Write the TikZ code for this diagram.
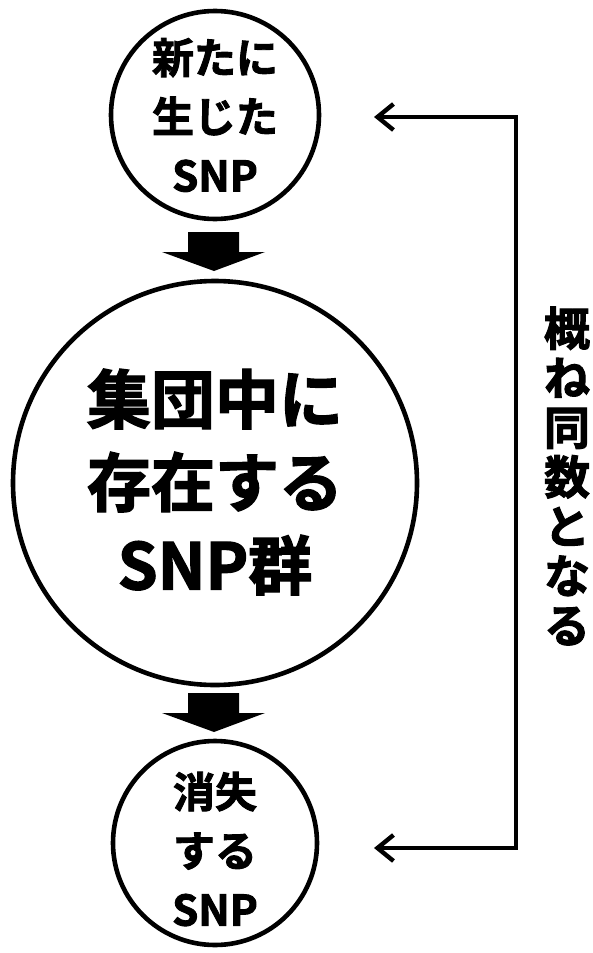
\documentclass[tikz,border=0pt]{standalone}
\usepackage{fontspec}
\setmainfont{Noto Sans CJK JP}[BoldFont={Noto Sans CJK JP Bold},BoldFeatures={FakeBold=2.2}]
\usetikzlibrary{arrows.meta}
\begin{document}
\begin{tikzpicture}[x=1pt,y=-1pt,
  ring/.style={draw=black,line width=4.6pt,circle,inner sep=0pt},
  small/.style={font=\bfseries\fontsize{42}{59}\selectfont,align=center},
  bigtxt/.style={font=\bfseries\fontsize{64}{83}\selectfont,align=center},
  fat/.style={fill=black,draw=none},
  back/.style={line width=4.4pt,-{Straight Barb[length=16pt,width=26pt,line width=4.4pt]}}]
\useasboundingbox (0,0) rectangle (592,953);
\node[ring,minimum size=208pt] (top) at (215,115) {};
\node[small] at (215,115) {新たに\\生じた\\SNP};
\node[ring,minimum size=404pt] (mid) at (215,483) {};
\node[bigtxt] at (215,482) {集団中に\\存在する\\SNP群};
\node[ring,minimum size=204pt] (bot) at (215,843) {};
\node[small] at (215,849) {消失\\する\\SNP};
% block arrows
\fill[fat] (188,232) -- (239,232) -- (239,252) -- (265,252) -- (214,271) -- (162,252) -- (188,252) -- cycle;
\fill[fat] (188,693) -- (239,693) -- (239,713) -- (265,713) -- (214,732) -- (162,713) -- (188,713) -- cycle;
% feedback
\coordinate (ra) at (374,117);
\coordinate (rb) at (374,848);
\coordinate (c1) at (516,117);
\coordinate (c2) at (516,848);
\draw[back] (c2) -- (c1) -- (ra);
\draw[back] (c1) -- (c2) -- (rb);
\node[font=\bfseries\fontsize{46}{49.5}\selectfont,align=center,inner sep=0pt] (lab) at (567,476) {概\\ね\\同\\数\\と\\な\\る};
\end{tikzpicture}
\end{document}
